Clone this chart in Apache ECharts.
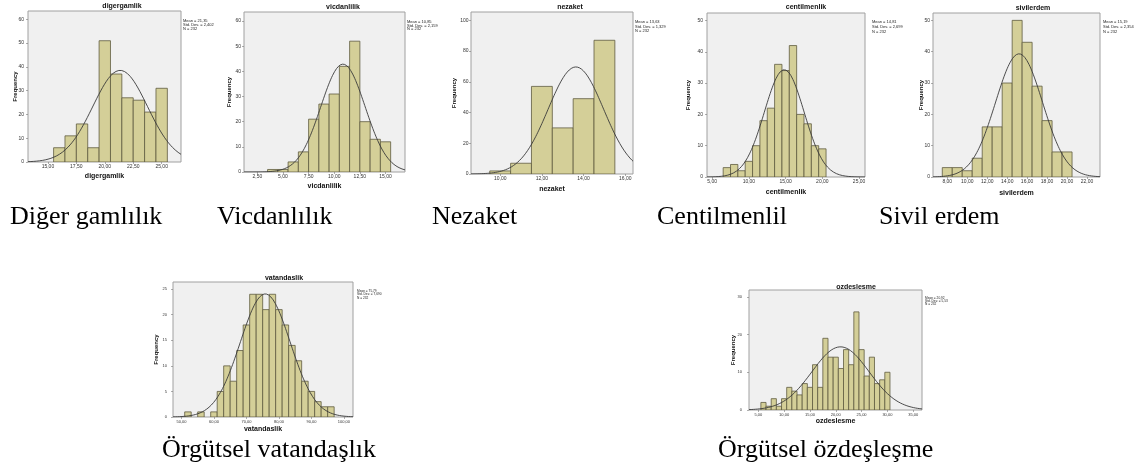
<!DOCTYPE html>
<html><head><meta charset="utf-8">
<script src="https://cdn.jsdelivr.net/npm/echarts@6/dist/echarts.min.js"></script>
<style>html,body{margin:0;padding:0;background:#fff}#c{width:1145px;height:470px}</style>
</head><body><div id="c"></div>
<script>
// ---------- data ----------
const panelTitles = ['digergamlik','vicdanlilik','nezaket','centilmenlik','sivilerdem','vatandaslik','ozdeslesme'];
const captions = ['Diğer gamlılık','Vicdanlılık','Nezaket','Centilmenlil','Sivil erdem','Örgütsel vatandaşlık','Örgütsel özdeşleşme'];

const digerBins = [16,17,18,19,20,21,22,23,24,25];
const digerFreq = [6,11,16,6,51,37,27,26,21,31];
const vicdanBins = [4,5,6,7,8,9,10,11,12,13,14,15];
const vicdanFreq = [1,1,4,8,21,27,31,42,52,20,13,12];
const nezaketBins = [10,11,12,13,14,15];
const nezaketFreq = [2,7,57,30,49,87];
const centilBins = [7,8,9,10,11,12,13,14,15,16,17,18,19,20];
const centilFreq = [3,4,2,5,10,18,22,36,34,42,20,17,10,9];
const sivilBins = [8,9,10,11,12,13,14,15,16,17,18,19,20];
const sivilFreq = [3,3,2,6,16,16,30,50,43,29,18,8,8];
const vatanBins = [52,54,56,58,60,62,64,66,68,70,72,74,76,78,80,82,84,86,88,90,92,94,96];
const vatanFreq = [1,0,1,0,1,5,10,7,13,18,24,24,21,24,21,18,14,11,7,5,3,2,2];
const ozdesBins = [6,7,8,9,10,11,12,13,14,15,16,17,18,19,20,21,22,23,24,25,26,27,28,29,30];
const ozdesFreq = [2,1,3,1,3,6,5,4,7,6,12,6,19,14,14,11,16,12,26,16,9,14,7,8,10];

const binList = [digerBins,vicdanBins,nezaketBins,centilBins,sivilBins,vatanBins,ozdesBins];
const freqList = [digerFreq,vicdanFreq,nezaketFreq,centilFreq,sivilFreq,vatanFreq,ozdesFreq];

// statistics printed beside each panel (normal curve overlay uses them)
const means = [21.35,10.85,13.63,14.81,15.19,75.79,20.92];
const stdDevs = [2.402,2.159,1.329,2.699,2.354,7.690,5.53];
const meanLabels = ['21,35','10,85','13,63','14,81','15,19','75,79','20,92'];
const sdLabels = ['2,402','2,159','1,329','2,699','2,354','7,690','5,53'];
const binWidths = [1,1,1,1,1,2,1];
const nObs = 232;

// tick values
const xTicks = [[15,17.5,20,22.5,25],[2.5,5,7.5,10,12.5,15],[10,12,14,16],[5,10,15,20,25],[8,10,12,14,16,18,20,22],[50,60,70,80,90,100],[5,10,15,20,25,30,35]];
const yTicks = [[0,10,20,30,40,50,60],[0,10,20,30,40,50,60],[0,20,40,60,80,100],[0,10,20,30,40,50],[0,10,20,30,40,50],[0,5,10,15,20,25],[0,10,20,30]];

// ---------- layout ----------
const L = [
 {l:28,t:11,w:153,h:151,x0:13.25,x1:26.7,y1:63.5,tx:122,ty:6,sx:183,sy:[20.7,24.6,28.5],fs:4,yn:15,xl:167,xn:176,ym:4,tf:5},
 {l:244,t:12,w:161,h:160,x0:1.2,x1:16.9,y1:63.6,tx:343,ty:7,sx:407,sy:[21.7,25.6,29.3],fs:4,yn:229,xl:177,xn:186,ym:3,tf:5},
 {l:471,t:12,w:162,h:162,x0:8.6,x1:16.37,y1:105.4,tx:570,ty:7,sx:635,sy:[22.3,26.7,31.2],fs:4,yn:454,xl:180,xn:189,ym:2.5,tf:5},
 {l:707,t:13,w:158,h:164,x0:4.3,x1:25.8,y1:52.4,tx:806,ty:7,sx:872,sy:[22.3,27,31.8],fs:4,yn:688,xl:183,xn:192,ym:4,tf:5},
 {l:933,t:13,w:167,h:164,x0:6.57,x1:23.3,y1:52.35,tx:1033,ty:8,sx:1103,sy:[22.3,27,31.8],fs:4,yn:921,xl:183,xn:193,ym:3,tf:5},
 {l:173,t:282,w:180,h:135,x0:47.4,x1:102.8,y1:26.4,tx:284,ty:278,sx:357,sy:[291,294.5,298],fs:3.2,yn:156,xl:421,xn:429,ym:6,tf:4},
 {l:749,t:290,w:173,h:120,x0:3.2,x1:36.7,y1:31.8,tx:856,ty:287,sx:925,sy:[297.7,301,304.3],fs:3.2,yn:733,xl:414,xn:421,ym:7,tf:4}
];
const capPos = [[10,217],[217,217],[432,217],[657,217],[879,217],[162,450],[718,450]];

function fmt(v){ return v.toFixed(2).replace('.',','); }
function normalCurve(i){
  const p = L[i], pts = [], n = 160;
  const k = nObs*binWidths[i]/(stdDevs[i]*Math.sqrt(2*Math.PI));
  for (let j=0;j<=n;j++){
    const x = p.x0 + (p.x1-p.x0)*j/n;
    const z = (x-means[i])/stdDevs[i];
    pts.push([x, k*Math.exp(-0.5*z*z)]);
  }
  return pts;
}

const grids=[], xAxes=[], yAxes=[], series=[], graphic=[];
L.forEach((p,i)=>{
  grids.push({left:p.l, top:p.t, width:p.w, height:p.h, show:true, backgroundColor:'#f0f0f0', borderColor:'#a0a0a0', borderWidth:1, containLabel:false});
  xAxes.push({type:'value', gridIndex:i, min:p.x0, max:p.x1,
    axisLine:{show:false}, splitLine:{show:false},
    axisTick:{show:true, length:2, customValues:xTicks[i], lineStyle:{color:'#777', width:0.6}},
    axisLabel:{customValues:xTicks[i], formatter:fmt, fontSize:p.tf, color:'#333', margin:2.5, fontFamily:'Liberation Sans'}});
  yAxes.push({type:'value', gridIndex:i, min:0, max:p.y1,
    axisLine:{show:false}, splitLine:{show:false},
    axisTick:{show:true, length:2, customValues:yTicks[i], lineStyle:{color:'#777', width:0.6}},
    axisLabel:{customValues:yTicks[i], fontSize:p.tf, color:'#333', margin:p.ym, fontFamily:'Liberation Sans'}});
  const bw = binWidths[i];
  series.push({type:'custom', xAxisIndex:i, yAxisIndex:i, clip:true, silent:true,
    data: binList[i].map((b,j)=>[b, freqList[i][j]]),
    renderItem:function(params, api){
      const c = api.value(0), v = api.value(1);
      if (!v) return {type:'group', children:[]};
      const a = api.coord([c-bw/2, v]);
      const b = api.coord([c+bw/2, 0]);
      return {type:'rect', shape:{x:a[0], y:a[1], width:b[0]-a[0], height:b[1]-a[1]},
        style:{fill:'#d4cf98', stroke:'#5f5c40', lineWidth:0.8}};
    }});
  series.push({type:'line', xAxisIndex:i, yAxisIndex:i, data:normalCurve(i), showSymbol:false, silent:true,
    lineStyle:{color:'#3a3a3a', width:0.9}, z:5, clip:true});
  // title
  graphic.push({type:'text', x:p.tx, y:p.ty, style:{text:panelTitles[i], font:'bold 7px "Liberation Sans"', fill:'#111', align:'center', verticalAlign:'middle'}});
  // x axis name
  graphic.push({type:'text', x:p.l+p.w/2, y:p.xn, style:{text:panelTitles[i], font:'bold 7px "Liberation Sans"', fill:'#111', align:'center', verticalAlign:'middle'}});
  // y axis name
  graphic.push({type:'text', x:p.yn, y:p.t+p.h/2, rotation:Math.PI/2, style:{text:'Frequency', font:'bold 6px "Liberation Sans"', fill:'#111', align:'center', verticalAlign:'middle'}});
  // stats
  const st = ['Mean = '+meanLabels[i], 'Std. Dev. = '+sdLabels[i], 'N = '+nObs];
  st.forEach((s,j)=>graphic.push({type:'text', x:p.sx, y:p.sy[j], style:{text:s, font:p.fs+'px "Liberation Sans"', fill:'#222', align:'left', verticalAlign:'middle'}}));
  // caption
  graphic.push({type:'text', x:capPos[i][0], y:capPos[i][1], style:{text:captions[i], font:'26px "Liberation Serif"', fill:'#000', align:'left', verticalAlign:'middle'}});
});

const chart = echarts.init(document.getElementById('c'), null, {renderer:'canvas'});
chart.setOption({animation:false, backgroundColor:'#fff', grid:grids, xAxis:xAxes, yAxis:yAxes, series:series, graphic:graphic});
</script></body></html>
